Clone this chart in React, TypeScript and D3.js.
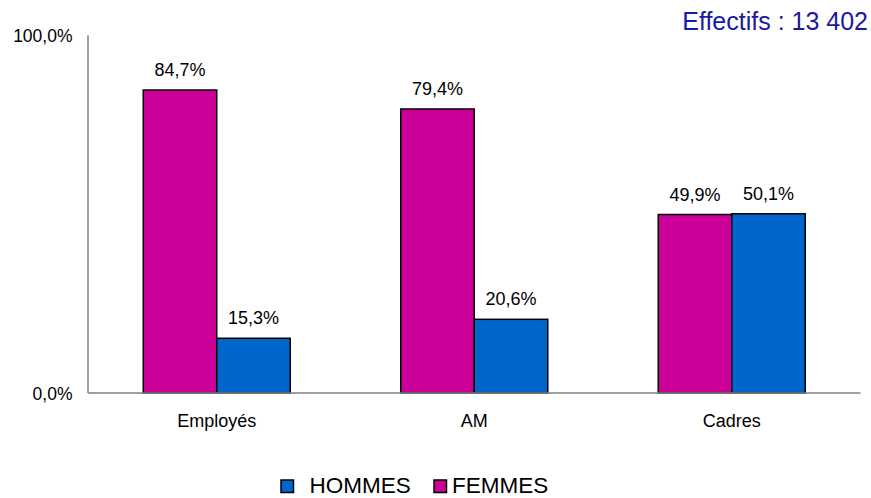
import React from "react";
import * as d3 from "d3";

const categories = ["Employés", "AM", "Cadres"];
const femmes = [84.7, 79.4, 49.9];
const hommes = [15.3, 20.6, 50.1];
const yTicks = [0, 100];
const seriesNames = ["FEMMES", "HOMMES"];
const colors = ["#CC0099", "#0066CC"];

const fmt = (v: number) => v.toFixed(1).replace(".", ",") + "%";

export default function App() {
  const W = 871, H = 498;
  const x0 = 88, x1 = 860.5, yTop = 35.3, yBot = 393;
  const x = d3.scaleBand().domain(categories).range([x0, x1]);
  const y = d3.scaleLinear().domain([0, 100]).range([yBot, yTop]);
  const barW = 73.5;
  const font = "Liberation Sans, Arial, sans-serif";
  const series = [femmes, hommes];
  return (
    <svg width={W} height={H} style={{ position: "absolute", left: 0, top: 0, fontFamily: font }}>
      <rect width={W} height={H} fill="#fff" />
      <text x={868} y={29.5} textAnchor="end" fontSize={25} fill="#1a1aa0">Effectifs : 13 402</text>
      {categories.map((c, i) => {
        const cx = (x(c) as number) + x.bandwidth() / 2;
        return (
          <g key={c}>
            {series.map((s, k) => {
              const bx = cx - barW + k * barW;
              return (
                <g key={k}>
                  <rect x={bx} y={y(s[i])} width={barW} height={yBot - y(s[i])} fill={colors[k]} stroke="#000" strokeWidth={1.5} />
                  <text x={bx + barW / 2} y={y(s[i]) - 14} textAnchor="middle" fontSize={18} fill="#000">{fmt(s[i])}</text>
                </g>
              );
            })}
            <text x={cx} y={426.5} textAnchor="middle" fontSize={18} fill="#000">{c}</text>
          </g>
        );
      })}
      <line x1={x0} x2={x0} y1={yTop} y2={yBot} stroke="#808080" strokeWidth={1.5} />
      <line x1={x0} x2={x1} y1={yBot} y2={yBot} stroke="#808080" strokeWidth={1.5} />
      {yTicks.map((t) => (
        <text key={t} x={72.5} y={y(t) + 6.8} textAnchor="end" fontSize={17.5} fill="#000">{fmt(t)}</text>
      ))}
      {[1, 0].map((k, j) => {
        const lx = j === 0 ? 281 : 434;
        return (
          <g key={k}>
            <rect x={lx} y={480} width={12.5} height={12.5} fill={colors[k]} stroke="#000" strokeWidth={1.5} />
            <text x={lx + (j === 0 ? 28.5 : 18)} y={493} fontSize={22.5} fill="#000">{seriesNames[k]}</text>
          </g>
        );
      })}
    </svg>
  );
}
